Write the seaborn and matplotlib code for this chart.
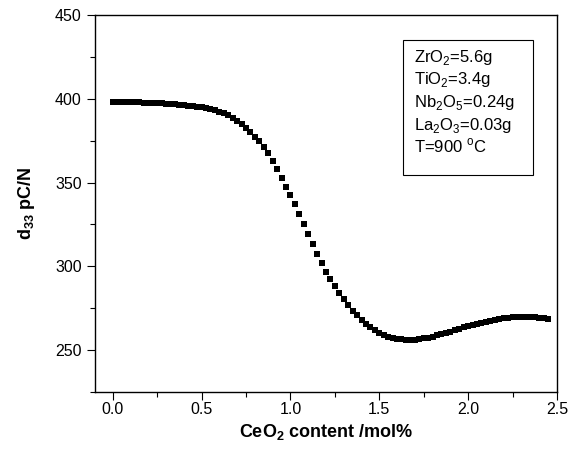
import matplotlib
matplotlib.use("Agg")
import matplotlib.pyplot as plt
from matplotlib.patches import Rectangle
from matplotlib.ticker import MultipleLocator
import pandas as pd
import seaborn as sns

# CeO2 content (mol%), one point every 0.025
ceo2 = [0.000, 0.025, 0.050, 0.075, 0.100, 0.125, 0.150, 0.175, 0.200, 0.225,
        0.250, 0.275, 0.300, 0.325, 0.350, 0.375, 0.400, 0.425, 0.450, 0.475,
        0.500, 0.525, 0.550, 0.575, 0.600, 0.625, 0.650, 0.675, 0.700, 0.725,
        0.750, 0.775, 0.800, 0.825, 0.850, 0.875, 0.900, 0.925, 0.950, 0.975,
        1.000, 1.025, 1.050, 1.075, 1.100, 1.125, 1.150, 1.175, 1.200, 1.225,
        1.250, 1.275, 1.300, 1.325, 1.350, 1.375, 1.400, 1.425, 1.450, 1.475,
        1.500, 1.525, 1.550, 1.575, 1.600, 1.625, 1.650, 1.675, 1.700, 1.725,
        1.750, 1.775, 1.800, 1.825, 1.850, 1.875, 1.900, 1.925, 1.950, 1.975,
        2.000, 2.025, 2.050, 2.075, 2.100, 2.125, 2.150, 2.175, 2.200, 2.225,
        2.250, 2.275, 2.300, 2.325, 2.350, 2.375, 2.400, 2.425, 2.450]

# d33 (pC/N)
d33 = [398.0, 398.0, 398.0, 397.9, 397.9, 397.8, 397.8, 397.7, 397.6, 397.5,
       397.4, 397.2, 397.0, 396.8, 396.6, 396.4, 396.2, 395.9, 395.6, 395.3,
       394.9, 394.4, 393.8, 393.1, 392.3, 391.3, 390.1, 388.7, 387.0, 385.0,
       382.6, 380.0, 377.4, 374.8, 371.5, 367.5, 363.0, 357.8, 352.8, 347.6,
       342.4, 337.0, 331.3, 325.4, 319.4, 313.4, 307.6, 301.9, 296.8, 292.2,
       288.0, 284.0, 280.3, 276.8, 273.6, 270.7, 268.0, 265.6, 263.5, 261.7,
       260.2, 259.0, 258.0, 257.2, 256.7, 256.4, 256.2, 256.2, 256.3, 256.6,
       257.0, 257.5, 258.1, 258.8, 259.5, 260.3, 261.1, 261.9, 262.7, 263.5,
       264.3, 265.0, 265.7, 266.4, 267.0, 267.6, 268.1, 268.6, 269.0, 269.3,
       269.6, 269.8, 269.9, 270.0, 269.9, 269.7, 269.4, 269.0, 268.5]

notes = [r"ZrO$_\mathregular{2}$=5.6g", r"TiO$_\mathregular{2}$=3.4g",
         r"Nb$_\mathregular{2}$O$_\mathregular{5}$=0.24g",
         r"La$_\mathregular{2}$O$_\mathregular{3}$=0.03g",
         r"T=900 $^\mathregular{o}$C"]

df = pd.DataFrame({"ceo2": ceo2, "d33": d33})

sns.set_style("ticks")
plt.rcParams["font.family"] = ["Liberation Sans", "DejaVu Sans"]
plt.rcParams["text.color"] = "black"
plt.rcParams["axes.labelcolor"] = "black"
plt.rcParams["xtick.color"] = "black"
plt.rcParams["ytick.color"] = "black"

fig = plt.figure(figsize=(5.77, 4.59), dpi=100)
ax = fig.add_axes([0.1646, 0.146, 0.8007, 0.8213])

sns.scatterplot(data=df, x="ceo2", y="d33", marker="s", color="black",
                s=25, linewidth=0, ax=ax, legend=False)

ax.set_xlim(-0.1, 2.5)
ax.set_ylim(225, 450)
ax.xaxis.set_major_locator(MultipleLocator(0.5))
ax.xaxis.set_minor_locator(MultipleLocator(0.25))
ax.set_yticks([250, 300, 350, 400, 450])
ax.yaxis.set_minor_locator(MultipleLocator(25))
ax.xaxis.set_major_formatter(matplotlib.ticker.FormatStrFormatter("%.1f"))

for s in ax.spines.values():
    s.set_visible(True)
    s.set_linewidth(1.0)
    s.set_color("black")

ax.tick_params(which="major", direction="out", length=5.5, width=0.8,
               labelsize=11.5, colors="black")
ax.tick_params(which="minor", direction="out", length=3.5, width=0.8,
               colors="black")
ax.tick_params(axis="x", which="major", pad=2)
ax.tick_params(axis="y", which="major", pad=4)

ax.set_xlabel(r"CeO$_\mathregular{2}$ content /mol%", fontsize=13,
              fontweight="bold", labelpad=3)
ax.set_ylabel(r"d$_\mathregular{33}$ pC/N", fontsize=13, fontweight="bold",
              labelpad=13)

ax.add_patch(Rectangle((0.666, 0.576), 0.283, 0.358, transform=ax.transAxes,
                       fill=False, edgecolor="black", linewidth=0.8))
for i, t in enumerate(notes):
    ax.text(0.690, 0.876 - 0.060 * i, t, transform=ax.transAxes,
            fontsize=12, va="baseline", ha="left")

fig.savefig("out.png", dpi=100)
